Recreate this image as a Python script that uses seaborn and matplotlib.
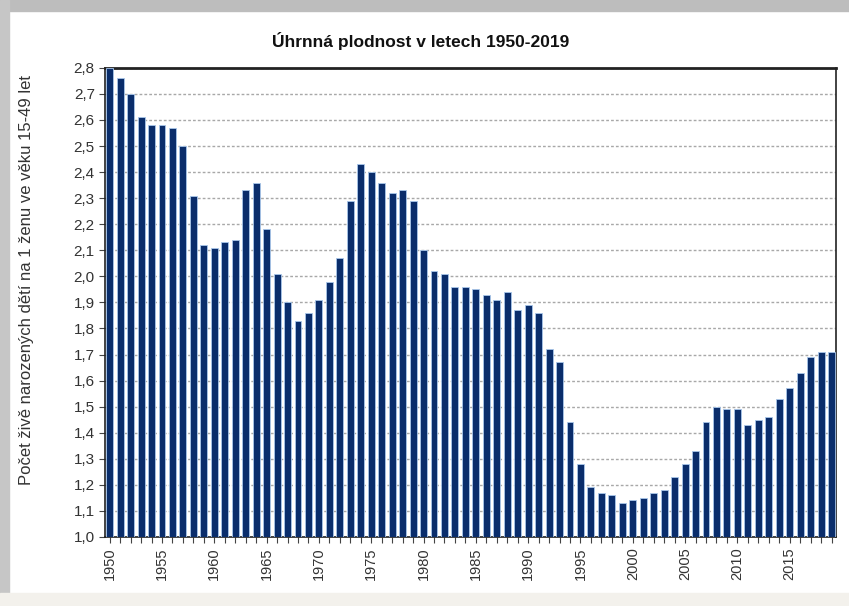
import matplotlib
matplotlib.use("Agg")
import matplotlib.pyplot as plt
from matplotlib.patches import Rectangle
from matplotlib.ticker import FuncFormatter
import seaborn as sns
import pandas as pd

# Úhrnná plodnost (total fertility rate), CZ 1950-2019
years = list(range(1950, 2020))
tfr = [
    2.80, 2.76, 2.70, 2.61, 2.58, 2.58, 2.57, 2.50, 2.31, 2.12,
    2.11, 2.13, 2.14, 2.33, 2.36, 2.18, 2.01, 1.90, 1.83, 1.86,
    1.91, 1.98, 2.07, 2.29, 2.43, 2.40, 2.36, 2.32, 2.33, 2.29,
    2.10, 2.02, 2.01, 1.96, 1.96, 1.95, 1.93, 1.91, 1.94, 1.87,
    1.89, 1.86, 1.72, 1.67, 1.44, 1.28, 1.19, 1.17, 1.16, 1.13,
    1.14, 1.15, 1.17, 1.18, 1.23, 1.28, 1.33, 1.44, 1.50, 1.49,
    1.49, 1.43, 1.45, 1.46, 1.53, 1.57, 1.63, 1.69, 1.71, 1.71,
]
y_ticks = [1.0 + 0.1 * i for i in range(19)]

title = "Úhrnná plodnost v letech 1950-2019"
ylabel = "Počet živě narozených dětí na 1 ženu ve věku 15-49 let"

df = pd.DataFrame({"rok": years, "plodnost": tfr})

sns.set_style("white")
plt.rcParams["font.family"] = ["Liberation Sans", "DejaVu Sans"]

fig = plt.figure(figsize=(8.49, 6.06), dpi=100)
fig.patch.set_facecolor("white")

# grey frame around the "screenshot"
fig.add_artist(Rectangle((0, 0.982), 1, 0.018, transform=fig.transFigure,
                         color="#bdbdbd", zorder=-1))
fig.add_artist(Rectangle((0, 0), 0.011, 1, transform=fig.transFigure,
                         color="#c6c6c6", zorder=-1))
fig.add_artist(Rectangle((0, 0), 1, 0.022, transform=fig.transFigure,
                         color="#f3f1ec", zorder=-1))

ax = fig.add_axes([0.124, 0.114, 0.861, 0.774])
sns.barplot(data=df, x="rok", y="plodnost", color="#0a2d6b", width=0.66,
            edgecolor="#a9c7ea", linewidth=0.6, saturation=1, ax=ax, zorder=3)

ax.set_ylim(1.0, 2.8)
ax.set_xlim(-0.42, len(years) - 0.55)
ax.set_yticks(y_ticks)
ax.yaxis.set_major_formatter(FuncFormatter(lambda v, p: f"{v:.1f}".replace(".", ",")))

ax.set_xticks(range(len(years)))
ax.set_xticklabels([str(y) if y % 5 == 0 else "" for y in years],
                   rotation=90, fontsize=10.5, color="#333333")
ax.tick_params(axis="y", labelsize=11, labelcolor="#333333")
ax.tick_params(axis="both", direction="out", length=4, width=0.8,
               color="#444444", bottom=True, left=True)

ax.yaxis.grid(True, linestyle=(0, (2, 1.5)), color="#a8a8a8", linewidth=1.0, zorder=0)
ax.set_axisbelow(True)
for side in ["left", "right", "bottom"]:
    ax.spines[side].set_color("#222222")
    ax.spines[side].set_linewidth(1.2)
ax.spines["top"].set_color("#222222")
ax.spines["top"].set_linewidth(2.0)

ax.set_xlabel("")
ax.set_ylabel("")
fig.text(0.031, 0.538, ylabel, rotation=90, ha="center", va="center",
         fontsize=12, color="#333333")
fig.text(0.496, 0.932, title, ha="center", va="center", fontsize=12.5,
         fontweight="bold", color="#111111")

fig.savefig("out.png", dpi=100)
